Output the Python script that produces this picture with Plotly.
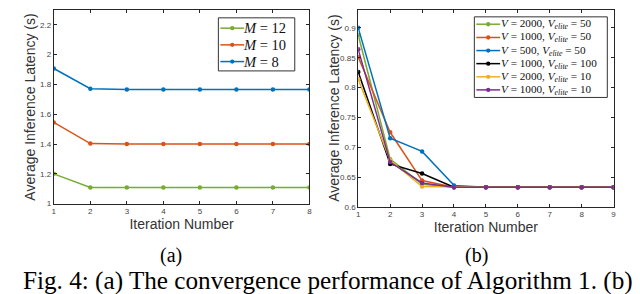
import plotly.graph_objects as go

# ---------- data ----------
iters_a = [1, 2, 3, 4, 5, 6, 7, 8]
m12 = [1.20, 1.108, 1.108, 1.108, 1.108, 1.108, 1.108, 1.108]
m10 = [1.545, 1.403, 1.400, 1.400, 1.400, 1.400, 1.400, 1.400]
m8 = [1.907, 1.771, 1.766, 1.766, 1.766, 1.766, 1.766, 1.766]
names_a = ["<i>M</i> = 12", "<i>M</i> = 10", "<i>M</i> = 8"]

iters_b = [1, 2, 3, 4, 5, 6, 7, 8, 9]
v2000_e50 = [0.888, 0.680, 0.638, 0.633, 0.633, 0.633, 0.633, 0.633, 0.633]
v1000_e50 = [0.851, 0.725, 0.644, 0.633, 0.633, 0.633, 0.633, 0.633, 0.633]
v500_e50 = [0.900, 0.715, 0.693, 0.636, 0.633, 0.633, 0.633, 0.633, 0.633]
v1000_e100 = [0.826, 0.672, 0.656, 0.633, 0.633, 0.633, 0.633, 0.633, 0.633]
v2000_e10 = [0.814, 0.678, 0.634, 0.633, 0.633, 0.633, 0.633, 0.633, 0.633]
v1000_e10 = [0.864, 0.675, 0.640, 0.633, 0.633, 0.633, 0.633, 0.633, 0.633]
names_b = [
    "<i>V</i> = 2000, <i>V<sub>elite</sub></i> = 50",
    "<i>V</i> = 1000, <i>V<sub>elite</sub></i> = 50",
    "<i>V</i> = 500, <i>V<sub>elite</sub></i> = 50",
    "<i>V</i> = 1000, <i>V<sub>elite</sub></i> = 100",
    "<i>V</i> = 2000, <i>V<sub>elite</sub></i> = 10",
    "<i>V</i> = 1000, <i>V<sub>elite</sub></i> = 10",
]

yticks_a = [1, 1.2, 1.4, 1.6, 1.8, 2, 2.2]
yticks_b = [0.6, 0.65, 0.7, 0.75, 0.8, 0.85, 0.9]
ytext_b = ["0.6", "0.65", "0.7", "0.75", "0.8", "0.85", "0.9"]

GREEN, ORANGE, BLUE = "#77AC30", "#D95319", "#0072BD"
BLACK, YELLOW, PURPLE = "#000000", "#EDB120", "#7E2F8E"
colors_a = [GREEN, ORANGE, BLUE]
colors_b = [GREEN, ORANGE, BLUE, BLACK, YELLOW, PURPLE]

W, H = 640, 294

fig = go.Figure()

for y, n, c in zip([m12, m10, m8], names_a, colors_a):
    fig.add_trace(go.Scatter(x=iters_a, y=y, name=n, mode="lines+markers",
                             line=dict(color=c, width=1.5),
                             marker=dict(color=c, size=4.5),
                             xaxis="x", yaxis="y", showlegend=False))

for y, n, c in zip([v2000_e50, v1000_e50, v500_e50, v1000_e100, v2000_e10, v1000_e10],
                   names_b, colors_b):
    fig.add_trace(go.Scatter(x=iters_b, y=y, name=n, mode="lines+markers",
                             line=dict(color=c, width=1.5),
                             marker=dict(color=c, size=4.5),
                             xaxis="x2", yaxis="y2", showlegend=False))

axis_common = dict(showline=True, linecolor="#262626", linewidth=1, mirror="allticks",
                   ticks="inside", ticklen=3, tickcolor="#262626",
                   showgrid=False, zeroline=False,
                   tickfont=dict(family="Liberation Sans", size=8, color="#444"))
title_font = dict(family="Liberation Sans", size=14, color="#333")


def px(x):
    return x / W


def py(y):
    return 1 - y / H


shapes = []
annotations = []


def make_legend(box, rows_y, line_x, text_x, names, colors, fsize):
    x0, y0, x1, y1 = box
    shapes.append(dict(type="rect", xref="paper", yref="paper",
                       x0=px(x0), x1=px(x1), y0=py(y0), y1=py(y1),
                       line=dict(color="#333", width=1), fillcolor="white"))
    for yy, n, c in zip(rows_y, names, colors):
        shapes.append(dict(type="line", xref="paper", yref="paper",
                           x0=px(line_x[0]), x1=px(line_x[1]), y0=py(yy), y1=py(yy),
                           line=dict(color=c, width=1.5)))
        xm = (line_x[0] + line_x[1]) / 2
        shapes.append(dict(type="circle", xref="paper", yref="paper",
                           x0=px(xm - 2.2), x1=px(xm + 2.2), y0=py(yy - 2.2), y1=py(yy + 2.2),
                           line=dict(color=c, width=0), fillcolor=c))
        annotations.append(dict(text=n, x=px(text_x), y=py(yy), xref="paper", yref="paper",
                                xanchor="left", yanchor="middle", showarrow=False,
                                borderpad=0, borderwidth=0,
                                font=dict(family="Liberation Serif", size=fsize, color="#111")))


make_legend((210, 10, 287, 64), [20.5, 37.5, 54.5], (212, 236), 235, names_a, colors_a, 14.5)
make_legend((468, 9, 602, 91), [16.5, 30, 43.3, 56.6, 70, 83.3], (470, 494), 494.5,
            names_b, colors_b, 11.2)

ylabel = "Average Inference Latency (s)"
annotations += [
    dict(text=ylabel, x=px(20), y=py(100.5), xref="paper", yref="paper", showarrow=False,
         xanchor="center", yanchor="middle", textangle=-90, font=title_font),
    dict(text=ylabel, x=px(327), y=py(102), xref="paper", yref="paper", showarrow=False,
         xanchor="center", yanchor="middle", textangle=-90, font=title_font),
    dict(text="(a)", x=px(162), y=py(252), xref="paper", yref="paper", showarrow=False,
         xanchor="center", yanchor="middle",
         font=dict(family="Liberation Serif", size=20, color="black")),
    dict(text="(b)", x=px(470), y=py(252), xref="paper", yref="paper", showarrow=False,
         xanchor="center", yanchor="middle",
         font=dict(family="Liberation Serif", size=20, color="black")),
    dict(text="Fig. 4: (a) The convergence performance of Algorithm 1. (b)",
         x=px(320), y=py(277.5), xref="paper", yref="paper", showarrow=False,
         xanchor="center", yanchor="middle", borderpad=0,
         font=dict(family="Liberation Serif", size=25.2, color="black")),
]

fig.update_layout(
    width=W, height=H,
    margin=dict(l=0, r=0, t=0, b=0),
    paper_bgcolor="white", plot_bgcolor="white",
    showlegend=False,
    xaxis=dict(domain=[0.0690, 0.4715], range=[1, 8], tickvals=iters_a,
               title=dict(text="Iteration Number", font=title_font, standoff=3),
               anchor="y", **axis_common),
    yaxis=dict(domain=[0.3231, 0.9932], range=[1, 2.3], tickvals=yticks_a,
               ticktext=[str(v) for v in yticks_a],
               anchor="x", **axis_common),
    xaxis2=dict(domain=[0.5484, 0.9505], range=[1, 9], tickvals=iters_b,
                title=dict(text="Iteration Number", font=title_font, standoff=3),
                anchor="y2", **axis_common),
    yaxis2=dict(domain=[0.3119, 0.9932], range=[0.6, 0.93], tickvals=yticks_b,
                ticktext=ytext_b,
                anchor="x2", **axis_common),
    shapes=shapes,
    annotations=annotations,
)

fig.write_html("out.html")
